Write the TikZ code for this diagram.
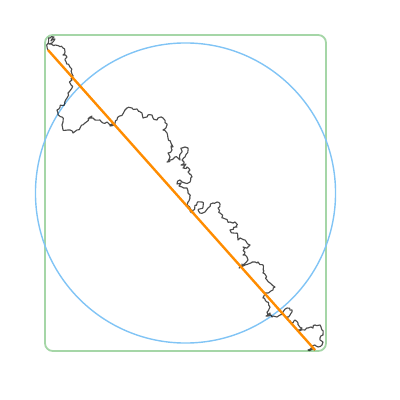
\documentclass[tikz,border=0pt]{standalone}
\usepackage{tikz}
\usetikzlibrary{decorations.pathmorphing}

\definecolor{boxgreen}{RGB}{165,214,167}
\definecolor{ringblue}{RGB}{129,196,245}
\definecolor{chordorange}{RGB}{255,140,0}

\begin{document}
\begin{tikzpicture}[x=0.025cm, y=-0.025cm]
    \useasboundingbox (0,0) rectangle (400,400);
    \pgfmathsetseed{7}

    % Bounding box of the walk
    \draw[boxgreen, line width=1.3pt, rounded corners=5.5pt] (45,35) rectangle (326,351);

    % Circle round the centre of the box
    \draw[ringblue, line width=1pt] (185.5,193) circle (3.75cm);

    % Walk
    \coordinate (start) at (48,50);
    \coordinate (end) at (315,350);
    \draw[black, opacity=0.7, line width=0.8pt, line join=round,
          decorate, decoration={random steps, segment length=1.5pt, amplitude=0.9pt}]
        (start) -- (46.7,45) -- (50,38) -- (54,37) -- (51,41) -- (55,39) -- (52,43) -- (49,44)
        -- (55,45) -- (60,46.7) -- (63,48)
        -- (65,52) -- (63,55) -- (67,57) -- (65,60) -- (70,67) -- (72,74) -- (72,80)
        -- (70,83) -- (72,88) -- (68,93) -- (67,98) -- (65,103) -- (60,107) -- (57,110)
        -- (58,113) -- (62,117) -- (63,122) -- (62,125) -- (63,130) -- (68,130) -- (73,133)
        -- (77,130) -- (80,128) -- (82,125) -- (85,123) -- (90,117) -- (88,119) -- (92,116)
        -- (90,118) -- (93,118) -- (95,120)
        -- (100,120) -- (103,123) -- (107,122) -- (110,125) -- (113,124) -- (110,126)
        -- (115,123) -- (117,120)
        -- (125,110) -- (127,108) -- (132,108) -- (137,109) -- (142,113) -- (143,118)
        -- (147,117) -- (148,115) -- (152,115) -- (153,118) -- (157,120) -- (158,118)
        -- (163,118) -- (167,125) -- (163,130) -- (167,133) -- (168,138) -- (172,145)
        -- (173,147) -- (171,146) -- (172,150) -- (168,153) -- (170,157) -- (167,162) -- (170,160)
        -- (175,157) -- (180,160) -- (182,148) -- (185,147) -- (188,148) -- (185,157)
        -- (182,160) -- (184,162) -- (181,165) -- (186,164) -- (183,168) -- (187,167)
        -- (190,170) -- (188,172) -- (192,177) -- (190,182) -- (185,183)
        -- (182,182) -- (180,180) -- (177,184) -- (181,183) -- (179,186) -- (182,187)
        -- (187,188) -- (188,193) -- (190,198)
        -- (188,202) -- (187,205) -- (190,208) -- (191,210) -- (194,213) -- (190,211)
        -- (192,212) -- (197,203) -- (202,202)
        -- (203,207) -- (198,210) -- (200,213) -- (205,212) -- (208,208) -- (213,203)
        -- (217,202) -- (220,204) -- (218,208) -- (220,213) -- (223,218) -- (230,222)
        -- (233,223) -- (235,222) -- (237,227) -- (230,230) -- (233,233) -- (237,233)
        -- (238,240) -- (240,238) -- (245,240) -- (250,245) -- (248,247) -- (243,247)
        -- (245,252) -- (243,255) -- (247,257) -- (248,260) -- (243,265) -- (240,267)
        -- (242,264) -- (239,268) -- (243,266)
        -- (245,265) -- (252,262) -- (257,263) -- (258,262) -- (263,265) -- (263,273)
        -- (267,280) -- (270,283) -- (275,287) -- (273,290) -- (268,293) -- (265,293)
        -- (263,298) -- (267,302) -- (270,307) -- (267,312) -- (268,315) -- (270,313)
        -- (266,316) -- (271,315) -- (272,317)
        -- (277,317) -- (280,315) -- (283,312) -- (287,308) -- (292,310) -- (290,315)
        -- (287,317) -- (288,320) -- (293,323) -- (295,320) -- (298,323) -- (302,328)
        -- (298,330) -- (305,330) -- (308,328) -- (313,328) -- (315,325) -- (320,325)
        -- (322,330) -- (323,335) -- (320,338) -- (323,342) -- (322,345) -- (318,347)
        -- (315,345) -- (312,347) -- (308,350) -- (end);

    % Chord from start to end
    \draw[chordorange, line width=1.7pt] (start) -- (end);
\end{tikzpicture}
\end{document}
